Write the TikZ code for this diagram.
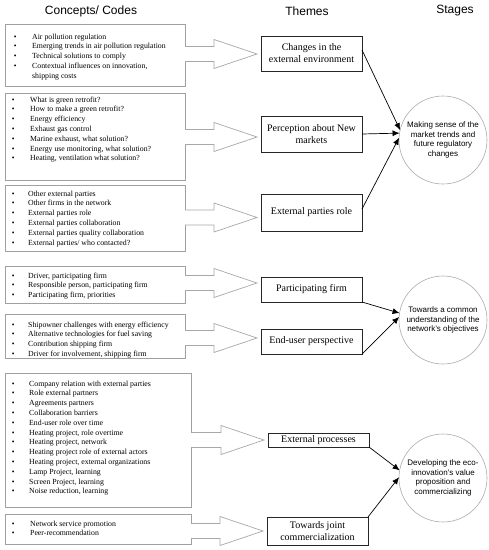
\documentclass[tikz,border=0pt]{standalone}
\usepackage{fontspec}
\setmainfont{Liberation Serif}
\newfontfamily\arialf{Liberation Sans}
\usetikzlibrary{calc,arrows.meta}
\definecolor{boxgray}{HTML}{A0A0A0}
\definecolor{arrowgray}{HTML}{A8A8A8}
\definecolor{circgray}{HTML}{ABABAB}
\newlength\bw
\newcommand{\bi}{\makebox[\bw][l]{\textbullet}}
\newcommand{\blockarrow}[3]{%
  \coordinate (ba-y) at (0,#3);
  \coordinate (ba-s) at (#1.east |- ba-y);
  \path (#2.west) ++(-4,0) coordinate (ba-w);
  \coordinate (ba-t) at (ba-w |- ba-y);
  \fill[white] ($(ba-s)+(-0.8,-7.5)$) -- ($(ba-t)+(-43,-7.5)$) -- ($(ba-t)+(-43,-14.5)$) -- (ba-t)
     -- ($(ba-t)+(-43,14.5)$) -- ($(ba-t)+(-43,7.5)$) -- ($(ba-s)+(-0.8,7.5)$) -- cycle;
  \draw[barrow] ($(ba-s)+(0,-7.5)$) -- ($(ba-t)+(-43,-7.5)$) -- ($(ba-t)+(-43,-14.5)$) -- (ba-t)
     -- ($(ba-t)+(-43,14.5)$) -- ($(ba-t)+(-43,7.5)$) -- ($(ba-s)+(0,7.5)$);
}
\begin{document}
\begin{tikzpicture}[x=1pt,y=-1pt,
  codebox/.style={draw=boxgray, line width=0.7pt, fill=white, inner sep=0pt, outer sep=0pt, anchor=north west},
  codetext/.style={anchor=north west, inner sep=0pt, align=left, font=\fontsize{7.8}{9.8}\selectfont},
  bwidth/.style={execute at begin node={\global\bw=#1pt\relax}},
  theme/.style={draw=black!85, line width=0.8pt, fill=white, inner sep=0pt, outer sep=0pt, minimum width=101pt, align=center, font=\fontsize{10}{12}\selectfont},
  stage/.style={circle, draw=circgray, line width=0.6pt, minimum size=88pt, inner sep=0pt, outer sep=0pt, align=center, font=\arialf\fontsize{8}{9.6}\selectfont},
  header/.style={font=\arialf\fontsize{12}{14}\selectfont, inner sep=0pt},
  conn/.style={draw=black, line width=0.7pt, -{Latex[length=7pt,width=6pt]}},
  barrow/.style={draw=arrowgray, line width=0.7pt, line join=miter}
]
\useasboundingbox (0,0) rectangle (489,550);
\fill[white] (0,0) rectangle (489,550);

% headers
\node[header] (H1) at (91,11) {Concepts/ Codes};
\node[header] (H2) at (307,11) {Themes};
\node[header] (H3) at (455,11) {Stages};

% code boxes
\node[codebox, minimum width=180pt, minimum height=62pt] (C1) at (5,24) {};
\node[codebox, minimum width=180pt, minimum height=87pt] (C2) at (5,93) {};
\node[codebox, minimum width=180pt, minimum height=66pt] (C3) at (5,185) {};
\node[codebox, minimum width=180pt, minimum height=37pt] (C4) at (5,266) {};
\node[codebox, minimum width=180pt, minimum height=44pt] (C5) at (5,314) {};
\node[codebox, minimum width=186pt, minimum height=134pt] (C6) at (5,373) {};
\node[codebox, minimum width=186pt, minimum height=30pt] (C7) at (5,514) {};

% code texts
\node[codetext, bwidth=18.4] (C1t) at (13.6,32.1) {\strut\bi Air pollution regulation\\
\bi Emerging trends in air pollution regulation\\
\bi Technical solutions to comply\\
\bi Contextual influences on innovation,\\
\hspace*{\bw}shipping costs};
\node[codetext, bwidth=18.4] (C2t) at (11.6,95.1) {\strut\bi What is green retrofit?\\
\bi How to make a green retrofit?\\
\bi Energy efficiency\\
\bi Exhaust gas control\\
\bi Marine exhaust, what solution?\\
\bi Energy use monitoring, what solution?\\
\bi Heating, ventilation what solution?};
\node[codetext, bwidth=16.4] (C3t) at (11.6,189.1) {\strut\bi Other external parties\\
\bi Other firms in the network\\
\bi External parties role\\
\bi External parties collaboration\\
\bi External parties quality collaboration\\
\bi External parties/ who contacted?};
\node[codetext, bwidth=16.4] (C4t) at (11.6,271.1) {\strut\bi Driver, participating firm\\
\bi Responsible person, participating firm\\
\bi Participating firm, priorities};
\node[codetext, bwidth=16.4] (C5t) at (11.6,320.1) {\strut\bi Shipowner challenges with energy efficiency\\
\bi Alternative technologies for fuel saving\\
\bi Contribution shipping firm\\
\bi Driver for involvement, shipping firm};
\node[codetext, bwidth=17.4] (C6t) at (11.6,379.1) {\strut\bi Company relation with external parties\\
\bi Role external partners\\
\bi Agreements partners\\
\bi Collaboration barriers\\
\bi End-user role over time\\
\bi Heating project, role overtime\\
\bi Heating project, network\\
\bi Heating project role of external actors\\
\bi Heating project, external organizations\\
\bi Lamp Project, learning\\
\bi Screen Project, learning\\
\bi Noise reduction, learning};
\node[codetext, bwidth=18.4] (C7t) at (11.6,519.1) {\strut\bi Network service promotion\\
\bi Peer-recommendation};

% themes
\node[theme, minimum height=35pt] (T1) at (311.5,53.5) {Changes in the\\external environment};
\node[theme, minimum height=36pt] (T2) at (311.5,134) {Perception about New\\markets};
\node[theme, minimum height=37pt] (T3) at (311.5,212.5) {External parties role};
\node[theme, minimum height=25pt] (T4) at (311.5,289.5) {Participating firm};
\node[theme, minimum height=25pt] (T5) at (311.5,341.5) {End-user perspective};
\node[theme, minimum height=14pt] (T6) at (318.5,440) {External processes};
\node[theme, minimum height=28pt] (T7) at (317.5,531) {Towards joint\\commercialization};

% block arrows
\blockarrow{C1}{T1}{54}
\blockarrow{C2}{T2}{137}
\blockarrow{C3}{T3}{217.5}
\blockarrow{C4}{T4}{283}
\blockarrow{C5}{T5}{338}
\blockarrow{C6}{T6}{440}
\blockarrow{C7}{T7}{531}

% stages
\node[stage] (S1) at (443,140) {Making sense of the\\market trends and\\future regulatory\\changes};
\node[stage] (S2) at (443,320) {Towards a common\\understanding of the\\network’s objectives};
\node[stage] (S3) at (443,478) {Developing the eco-\\innovation’s value\\proposition and\\commercializing};

% connectors
\draw[conn] ([yshift=3.5pt]T1.east) -- (S1.167);
\draw[conn] (T2.east) -- (S1.171);
\draw[conn] ([yshift=3.5pt]T3.east) -- (S1.177);
\draw[conn] (T4.south east) -- (S2.171);
\draw[conn] (T5.south east) -- (S2.176);
\draw[conn] (T6.south east) -- (S3.170);
\draw[conn] (T7.north east) -- (S3.179);
\end{tikzpicture}
\end{document}
